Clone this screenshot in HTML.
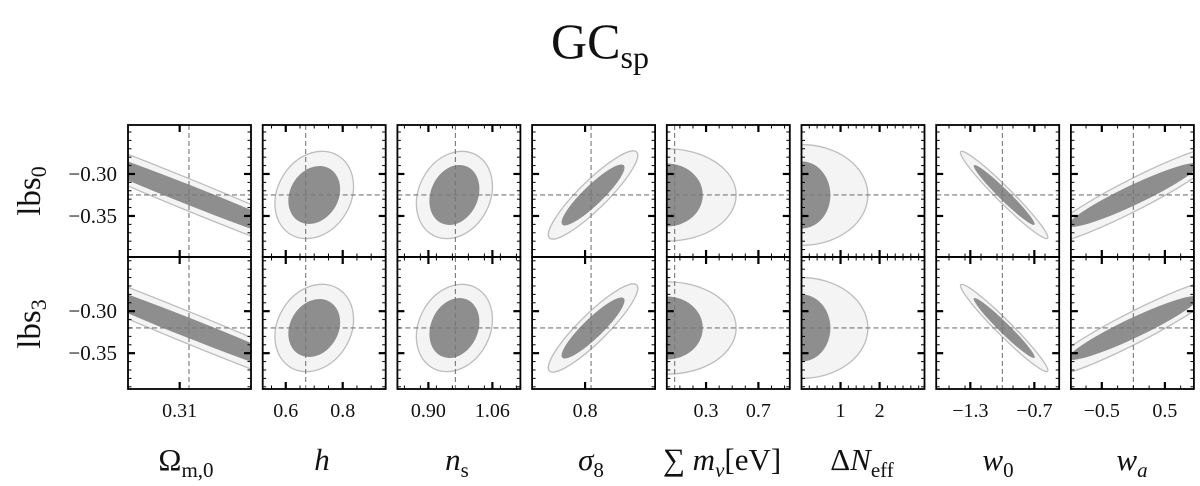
<!DOCTYPE html>
<html><head><meta charset="utf-8"><style>
body{margin:0;background:#fff;width:1200px;height:486px;overflow:hidden}
svg{display:block}
text{font-family:"Liberation Serif","DejaVu Serif",serif;fill:#111}
</style></head><body>
<svg id="fig" width="1200" height="486" viewBox="0 0 1200 486">
<text x="600" y="58" text-anchor="middle" font-size="50">GC<tspan font-size="32" dy="10">sp</tspan></text>
<text transform="translate(40,191) rotate(-90)" text-anchor="middle" font-size="33">lbs<tspan font-size="22" dy="6">0</tspan></text>
<text transform="translate(40,324) rotate(-90)" text-anchor="middle" font-size="33">lbs<tspan font-size="22" dy="6">3</tspan></text>
<g id="panels"></g>
<g font-size="31">
<text x="186" y="470" text-anchor="middle">Ω<tspan font-size="21" dy="7">m,0</tspan></text>
<text x="322" y="470" text-anchor="middle" font-style="italic">h</text>
<text x="457" y="470" text-anchor="middle"><tspan font-style="italic">n</tspan><tspan font-size="21" dy="7">s</tspan></text>
<text x="591" y="470" text-anchor="middle"><tspan font-style="italic">σ</tspan><tspan font-size="21" dy="7">8</tspan></text>
<text x="722" y="470" text-anchor="middle">∑ <tspan font-style="italic">m</tspan><tspan font-size="21" dy="7" font-style="italic">ν</tspan><tspan dy="-7">[eV]</tspan></text>
<text x="862" y="470" text-anchor="middle">Δ<tspan font-style="italic">N</tspan><tspan font-size="21" dy="7">eff</tspan></text>
<text x="998" y="470" text-anchor="middle"><tspan font-style="italic">w</tspan><tspan font-size="21" dy="7">0</tspan></text>
<text x="1132" y="470" text-anchor="middle"><tspan font-style="italic">w</tspan><tspan font-size="21" dy="7" font-style="italic">a</tspan></text>
</g>
</svg>
<script>
// ---- data ----
const params = ["omega_m","h","n_s","sigma_8","sum_mnu","delta_neff","w0","wa"];
const xMin = [0.285, 0.519, 0.8225, 0.7117, 0.0, 0.0, -1.62, -0.99];
const xMax = [0.3445, 0.951, 1.130, 0.9167, 0.94, 3.15, -0.467, 0.96];
const xFid = [0.3145, 0.67, 0.9675, 0.81, 0.06, 0.0, -1.0, 0.0];
const majorTicks = [[0.31],[0.6,0.8],[0.90,1.06],[0.8],[0.3,0.7],[1,2],[-1.3,-0.7],[-0.5,0.5]];
const tickLabels = [["0.31"],["0.6","0.8"],["0.90","1.06"],["0.8"],["0.3","0.7"],["1","2"],["−1.3","−0.7"],["−0.5","0.5"]];
const minorStep = [0, 0.05, 0.04, 0, 0.1, 0.2, 0.15, 0.25];
const contourCx = [0.3145, 0.70, 0.965, 0.8133, 0.0, 0.0, -0.983, 0.0];
const sxDark = [0.0726, 0.091, 0.0625, 0.0525, 0.275, 0.74, 0.286, 1.03];
const syDark = [0.0714, 0.0345, 0.0357, 0.0363, 0.0375, 0.040, 0.0357, 0.038];
const sxLight = [0.111, 0.138, 0.095, 0.0745, 0.53, 1.70, 0.41, 1.5];
const syLight = [0.113, 0.052, 0.052, 0.0525, 0.055, 0.060, 0.052, 0.06];
const rhoCorr = [-0.985, 0.2, 0.2, 0.9, 0.0, 0.0, -0.97, 0.94];
const rowNames = ["lbs0","lbs3"];
const rowYFid = [-0.325, -0.32];
const rowYMax = [-0.2417, -0.2355];
const yTicks = [-0.30, -0.35];
const yTickLabels = ["−0.30","−0.35"];

// ---- layout ----
const NS = "http://www.w3.org/2000/svg";
const panelsG = document.getElementById("panels");
const L0 = 128, DX = 134.7, PW = 123, PH = 132, T0 = 125;
const Y_SCALE = 840;
function mk(tag, attrs, parent){const e=document.createElementNS(NS,tag);for(const k in attrs)e.setAttribute(k,attrs[k]);parent.appendChild(e);return e;}

for(let r=0;r<2;r++){
  const top = T0 + r*PH;
  const yMaxR = rowYMax[r];
  const yS = v => top + (yMaxR - v)*Y_SCALE;
  yTicks.forEach((v,j)=>{
    const t = mk("text",{x:117,y:yS(v)+7,"text-anchor":"end","font-size":"21"},document.getElementById("fig"));
    t.textContent = yTickLabels[j];
    
    
  });
  for(let p=0;p<params.length;p++){
    const left = L0 + p*DX;
    const xS = v => left + (v - xMin[p])/(xMax[p]-xMin[p])*PW;
    const g = mk("g",{},panelsG);
    
    
    const cid = "clip"+r+"_"+p;
    const cp = mk("clipPath",{id:cid},g);
    mk("rect",{x:left,y:top,width:PW,height:PH},cp);
    const cg = mk("g",{"clip-path":"url(#"+cid+")"},g);
    const cxp = xS(contourCx[p]), cyp = yS(rowYFid[r]);
    const pxU = PW/(xMax[p]-xMin[p]);
    [[sxLight[p],syLight[p],"#f4f4f4","#bdbdbd","contour-95"],[sxDark[p],syDark[p],"#8e8e8e","none","contour-68"]].forEach(c=>{
      const a = c[0]*pxU, b = c[1]*Y_SCALE;
      const Sxx=a*a, Syy=b*b, Sxy=-rhoCorr[p]*a*b;
      const th = 0.5*Math.atan2(2*Sxy, Sxx-Syy);
      const m=(Sxx+Syy)/2, d=Math.sqrt(((Sxx-Syy)/2)**2+Sxy*Sxy);
      const e = mk("ellipse",{cx:cxp,cy:cyp,rx:Math.sqrt(m+d),ry:Math.sqrt(Math.max(m-d,0.01)),
        transform:"rotate("+(th*180/Math.PI)+" "+cxp+" "+cyp+")",fill:c[2],stroke:c[3],"stroke-width":1.3},cg);
      
      
    });
    const vf = mk("line",{x1:xS(xFid[p]),x2:xS(xFid[p]),y1:top,y2:top+PH,stroke:"#777","stroke-width":1.1,"stroke-dasharray":"5,3"},cg);
    
    
    const hf = mk("line",{x1:left,x2:left+PW,y1:yS(rowYFid[r]),y2:yS(rowYFid[r]),stroke:"#777","stroke-width":1.1,"stroke-dasharray":"5,3"},cg);
    
    
    const tg = mk("g",{stroke:"#000"},g);
    majorTicks[p].forEach(v=>{
      const x=xS(v);
      mk("line",{x1:x,x2:x,y1:top,y2:top+7,"stroke-width":2.2},tg);
      mk("line",{x1:x,x2:x,y1:top+PH,y2:top+PH-7,"stroke-width":2.2},tg);
    });
    if(minorStep[p]>0){
      const s=minorStep[p];
      for(let v=Math.ceil(xMin[p]/s)*s; v<=xMax[p]; v+=s){
        const x=xS(v);
        if(majorTicks[p].some(m=>Math.abs(m-v)<s/3)) continue;
        mk("line",{x1:x,x2:x,y1:top,y2:top+3.5,"stroke-width":1},tg);
        mk("line",{x1:x,x2:x,y1:top+PH,y2:top+PH-3.5,"stroke-width":1},tg);
      }
    }
    yTicks.forEach(v=>{
      const y=yS(v);
      mk("line",{x1:left,x2:left+7,y1:y,y2:y,"stroke-width":2.2},tg);
      mk("line",{x1:left+PW,x2:left+PW-7,y1:y,y2:y,"stroke-width":2.2},tg);
    });
    for(let v=-0.39; v<=-0.23; v+=0.01){
      const y=yS(v);
      if(y<top+1||y>top+PH-1) continue;
      if(yTicks.some(m=>Math.abs(m-v)<0.003)) continue;
      mk("line",{x1:left,x2:left+3.5,y1:y,y2:y,"stroke-width":1},tg);
      mk("line",{x1:left+PW,x2:left+PW-3.5,y1:y,y2:y,"stroke-width":1},tg);
    }
    const fr = mk("rect",{x:left,y:top,width:PW,height:PH,fill:"none",stroke:"#000","stroke-width":1.8},g);
    
    
    if(r===1){
      majorTicks[p].forEach((v,j)=>{
        const t = mk("text",{x:xS(v),y:417,"text-anchor":"middle","font-size":"20"},g);
        t.textContent = tickLabels[p][j];
        
        
      });
    }
  }
}
</script>
</body></html>
